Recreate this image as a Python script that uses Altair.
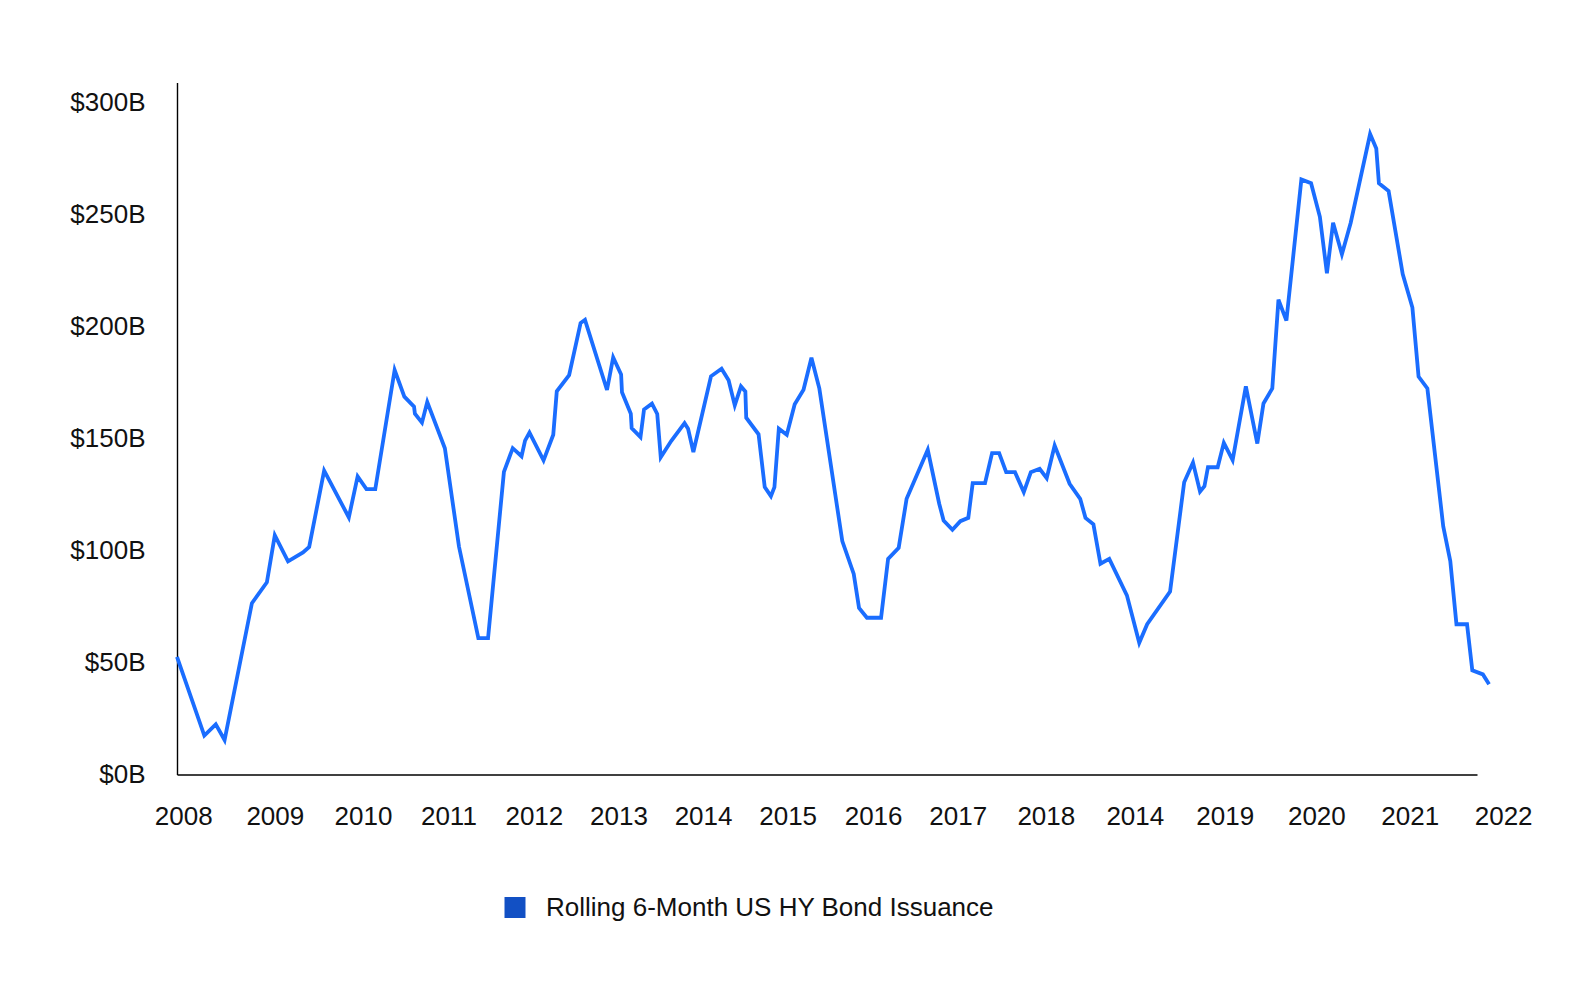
import json
import altair as alt
import pandas as pd

# x position (fractional period units along the axis), value in $B
t_vals = [0.00, 0.31, 0.44, 0.54, 0.85, 1.02, 1.11, 1.26, 1.43, 1.50,
          1.67, 1.95, 2.05, 2.15, 2.25, 2.47, 2.58, 2.69, 2.70, 2.78,
          2.84, 3.04, 3.20, 3.42, 3.53, 3.71, 3.81, 3.91, 3.95, 4.00,
          4.16, 4.27, 4.31, 4.45, 4.58, 4.63, 4.88, 4.95, 5.04, 5.05,
          5.15, 5.16, 5.26, 5.30, 5.39, 5.45, 5.49, 5.61, 5.76, 5.80,
          5.86, 6.06, 6.18, 6.26, 6.33, 6.40, 6.45, 6.46, 6.60, 6.67,
          6.74, 6.78, 6.83, 6.92, 7.01, 7.11, 7.20, 7.29, 7.55, 7.68,
          7.74, 7.83, 7.99, 8.07, 8.19, 8.28, 8.52, 8.65, 8.70, 8.80,
          8.89, 8.98, 9.03, 9.17, 9.25, 9.33, 9.41, 9.51, 9.61, 9.69,
          9.79, 9.87, 9.96, 10.13, 10.25, 10.31, 10.40, 10.48, 10.58, 10.78,
          10.92, 11.01, 11.27, 11.43, 11.53, 11.61, 11.66, 11.70, 11.81, 11.88,
          11.98, 12.13, 12.26, 12.33, 12.43, 12.50, 12.59, 12.76, 12.87, 12.97,
          13.05, 13.12, 13.22, 13.32, 13.54, 13.61, 13.64, 13.75, 13.91, 14.02,
          14.09, 14.19, 14.37, 14.45, 14.52, 14.64, 14.70, 14.82, 14.89]

issuance = [52.5, 17.4, 22.4, 15.4, 76.5, 85.8, 106.8, 95.2, 99.2, 101.6,
            135.7, 114.8, 133.1, 127.4, 127.4, 180.6, 168.7, 164.3, 161.1, 157.1,
            166.3, 145.7, 101.8, 60.9, 60.9, 135.1, 145.7, 142.1, 149.1, 152.7,
            140.3, 151.7, 171.1, 178.3, 201.6, 203.0, 171.7, 186.2, 178.6, 170.7,
            161.1, 154.7, 150.7, 163.0, 165.6, 161.0, 141.7, 149.0, 156.9, 154.4,
            144.0, 177.8, 181.2, 176.0, 164.8, 173.3, 171.0, 159.3, 151.9, 128.3,
            124.3, 128.3, 154.4, 151.7, 165.3, 171.8, 186.1, 172.3, 104.2, 89.6,
            74.4, 70.0, 70.0, 96.3, 101.2, 123.1, 145.0, 120.9, 113.4, 109.3,
            113.1, 114.6, 130.1, 130.1, 143.5, 143.5, 135.0, 135.0, 126.1, 135.0,
            136.5, 132.3, 146.9, 129.8, 123.1, 114.6, 111.7, 94.1, 96.3, 80.0,
            58.8, 67.1, 81.7, 130.5, 139.3, 126.3, 128.7, 137.2, 137.2, 148.1,
            140.4, 173.3, 147.8, 165.7, 172.4, 212.0, 202.7, 265.7, 264.0, 249.0,
            223.8, 246.4, 232.3, 246.4, 286.0, 279.5, 264.0, 260.5, 223.5, 208.5,
            177.7, 172.4, 110.8, 95.3, 67.1, 67.1, 46.5, 44.7, 40.3]

tick_pos = [0.07, 1.11, 2.11, 3.08, 4.05, 5.01, 5.97, 6.93, 7.90, 8.86,
            9.86, 10.87, 11.89, 12.93, 13.99, 15.05]
tick_labels = ["2008", "2009", "2010", "2011", "2012", "2013", "2014", "2015",
               "2016", "2017", "2018", "2014", "2019", "2020", "2021", "2022"]

y_ticks = [0, 50, 100, 150, 200, 250, 300]
series_name = "Rolling 6-Month US HY Bond Issuance"

df = pd.DataFrame({"t": t_vals, "value": issuance, "series": series_name})

FONT = "Liberation Sans"
label_expr = "%s[indexof(%s, datum.value)]" % (json.dumps(tick_labels), json.dumps(tick_pos))

chart = alt.Chart(df).mark_line(strokeWidth=3.8, strokeJoin="miter").encode(
    x=alt.X("t:Q",
            scale=alt.Scale(domain=[0, 15.4], nice=False, zero=False),
            axis=alt.Axis(values=tick_pos, labelExpr=label_expr, title=None,
                          grid=False, ticks=False, labelPadding=29,
                          labelFontSize=26, labelFont=FONT, labelColor="#111111",
                          domainColor="#000000", domainWidth=1.4,
                          domainDash=[1300, 400], labelAlign="center",
                          labelBaseline="top", labelOverlap=False, labelFlush=False)),
    y=alt.Y("value:Q",
            scale=alt.Scale(domain=[0, 309], nice=False),
            axis=alt.Axis(values=y_ticks, labelExpr="'$' + datum.value + 'B'",
                          title=None, grid=False, ticks=False, labelPadding=32,
                          labelFontSize=26, labelFont=FONT, labelColor="#111111",
                          domainColor="#000000", domainWidth=1.4,
                          labelOverlap=False, labelFlush=False)),
    color=alt.Color("series:N",
                    scale=alt.Scale(range=["#1a6dff"]),
                    legend=alt.Legend(title=None, orient="none",
                                      legendX=325, legendY=812,
                                      symbolType="square", symbolSize=441,
                                      symbolFillColor="#1250c4",
                                      symbolStrokeWidth=0, symbolOpacity=1,
                                      labelFontSize=26, labelFont=FONT,
                                      labelColor="#111111", labelOffset=18,
                                      padding=0, labelLimit=0)),
).properties(
    width=1357,
    height=692,
    autosize=alt.AutoSizeParams(type="none"),
    padding={"left": 169, "top": 74.5, "right": 40, "bottom": 160},
).configure_view(stroke=None)

chart.save("out.html", embed_options={"renderer": "svg", "actions": False})
